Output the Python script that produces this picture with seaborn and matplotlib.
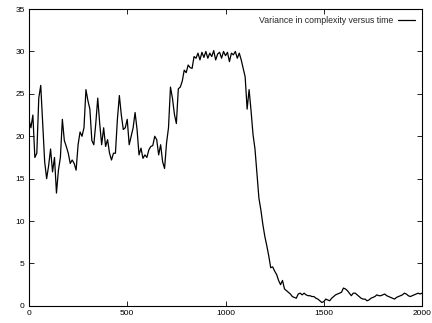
import numpy as np
import pandas as pd
import matplotlib
matplotlib.use("Agg")
import matplotlib.pyplot as plt
import seaborn as sns

# Time steps sampled every 10 units
time_steps = list(range(0, 2001, 10))

# Variance readings, in blocks of 100 time units
variance_0000 = [22.0, 21.0, 22.5, 17.5, 18.0, 24.5, 26.0, 21.5, 17.0, 15.0]
variance_0100 = [16.5, 18.5, 15.8, 17.5, 13.3, 16.0, 17.5, 22.0, 19.5, 18.8]
variance_0200 = [18.0, 16.8, 17.2, 16.8, 16.0, 19.0, 20.5, 20.0, 21.0, 25.5]
variance_0300 = [24.2, 23.2, 19.5, 19.0, 21.5, 24.5, 21.5, 19.0, 21.0, 18.8]
variance_0400 = [19.6, 18.0, 17.2, 18.0, 18.0, 22.0, 24.8, 22.5, 20.8, 21.0]
variance_0500 = [22.0, 19.0, 20.0, 21.0, 22.8, 20.8, 17.8, 18.6, 17.4, 17.8]
variance_0600 = [17.5, 18.4, 18.8, 18.9, 20.0, 19.6, 17.8, 19.0, 17.0, 16.2]
variance_0700 = [19.2, 21.0, 25.8, 24.5, 22.6, 21.5, 25.6, 25.8, 26.5, 27.8]
variance_0800 = [27.5, 28.4, 28.1, 28.0, 29.4, 29.2, 29.8, 29.0, 29.9, 29.3]
variance_0900 = [30.0, 29.2, 29.8, 29.4, 30.1, 29.0, 29.7, 29.9, 29.2, 30.0]
variance_1000 = [29.5, 29.9, 28.8, 29.8, 29.6, 30.0, 29.2, 29.8, 29.0, 28.0]
variance_1100 = [27.0, 23.2, 25.5, 23.0, 20.2, 18.5, 15.6, 12.7, 11.3, 9.6]
variance_1200 = [8.2, 7.1, 5.9, 4.5, 4.6, 4.1, 3.7, 3.0, 2.5, 3.0]
variance_1300 = [2.0, 1.8, 1.6, 1.4, 1.1, 1.0, 0.9, 1.4, 1.5, 1.3]
variance_1400 = [1.5, 1.3, 1.2, 1.2, 1.1, 1.1, 0.9, 0.8, 0.6, 0.4]
variance_1500 = [0.5, 0.8, 0.7, 0.6, 0.9, 1.1, 1.3, 1.4, 1.5, 1.6]
variance_1600 = [2.1, 2.0, 1.8, 1.5, 1.2, 1.5, 1.5, 1.3, 1.1, 0.9]
variance_1700 = [0.8, 0.8, 0.6, 0.7, 0.9, 1.0, 1.1, 1.3, 1.2, 1.2]
variance_1800 = [1.3, 1.4, 1.2, 1.1, 1.0, 0.9, 0.8, 1.0, 1.1, 1.2]
variance_1900 = [1.3, 1.5, 1.4, 1.2, 1.1, 1.2, 1.3, 1.4, 1.5, 1.4]
variance_2000 = [1.5]

variance = (variance_0000 + variance_0100 + variance_0200 + variance_0300
            + variance_0400 + variance_0500 + variance_0600 + variance_0700
            + variance_0800 + variance_0900 + variance_1000 + variance_1100
            + variance_1200 + variance_1300 + variance_1400 + variance_1500
            + variance_1600 + variance_1700 + variance_1800 + variance_1900
            + variance_2000)

x_ticks = [0, 500, 1000, 1500, 2000]
y_ticks = [0, 5, 10, 15, 20, 25, 30, 35]
series_label = "Variance in complexity versus time"

df = pd.DataFrame({"time": time_steps, "variance": variance})

sns.set_style("white")
plt.rcParams["font.family"] = ["Liberation Sans", "DejaVu Sans"]

fig = plt.figure(figsize=(4.32, 3.23), dpi=100)
ax = fig.add_axes([0.067, 0.053, 0.910, 0.919])

sns.lineplot(data=df, x="time", y="variance", ax=ax, color="black",
             linewidth=0.9, label=series_label)

ax.set_xlim(0, 2000)
ax.set_ylim(0, 35)
ax.set_xticks(x_ticks)
ax.set_yticks(y_ticks)
ax.set_xlabel("")
ax.set_ylabel("")

for side in ["top", "right", "bottom", "left"]:
    ax.spines[side].set_visible(True)
    ax.spines[side].set_color("black")
    ax.spines[side].set_linewidth(0.8)

ax.tick_params(direction="in", length=3.5, width=0.6, labelsize=6,
               top=True, right=True, bottom=True, left=True,
               colors="black", pad=3)

ax.legend(loc="upper right", frameon=False, fontsize=6.3, markerfirst=False,
          handlelength=2.0, handletextpad=0.5, borderaxespad=0.4)

fig.savefig("out.png", dpi=100)
